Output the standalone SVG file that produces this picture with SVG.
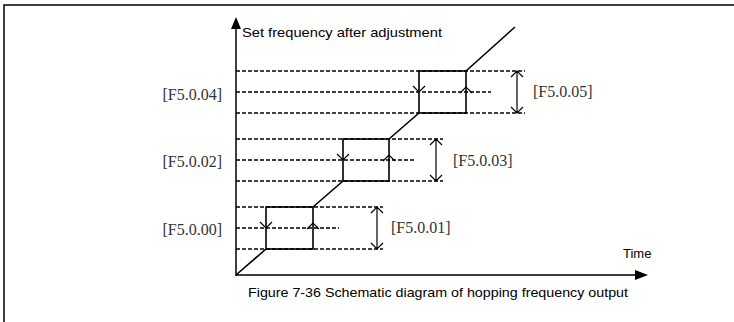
<svg xmlns="http://www.w3.org/2000/svg" width="734" height="322" viewBox="0 0 734 322">
<style>
.ax{stroke:#000;stroke-width:1.5;fill:none}
.box{stroke:#000;stroke-width:1.6;fill:none}
.dash{stroke:#000;stroke-width:1.3;stroke-dasharray:4 2;fill:none}
.ah{stroke:#000;stroke-width:1.2;fill:none}
.lbl{font-family:"Liberation Serif","Times New Roman",serif;font-size:16px;fill:#333}
.sans{font-family:"Liberation Sans",Arial,sans-serif;font-size:13px;fill:#000}
</style>
<rect width="734" height="322" fill="#fff"/>
<path d="M4,322 V5 H734" stroke="#000" stroke-width="1.5" fill="none"/>
<g id="axes">
<line class="ax" x1="236" y1="276" x2="236" y2="28"/>
<polygon points="236,17 231,29 241,29" fill="#000"/>
<line class="ax" x1="236" y1="275" x2="636" y2="275"/>
<polygon points="648,275 635,270 635,280" fill="#000"/>
<text class="sans" x="242" y="37" textLength="200" lengthAdjust="spacingAndGlyphs">Set frequency after adjustment</text>
<text class="sans" x="623" y="258">Time</text>
</g>
<g id="connectors">
<g id="dashed-lines">
<path class="dash" d="M236,71 H525 M236,113 H525 M236,92 H491"/>
<path class="dash" d="M236,139 H443 M236,181 H443 M236,160 H416"/>
<path class="dash" d="M236,207 H383 M236,249 H383 M236,228 H339"/>
</g>
<path class="box" d="M236,275 L266,249 M313,207 L343,181 M389,139 L419,113 M466,71 L515,27"/>
</g>
<g id="hop-1">
<rect class="box" x="266" y="207" width="47" height="42"/>
<path class="ah" d="M260,222 L266,228 L272,222 M307,229 L313,223 L319,229"/>
</g>
<g id="hop-2">
<rect class="box" x="343" y="139" width="46" height="42"/>
<path class="ah" d="M337,154 L343,160 L349,154 M383,161 L389,155 L395,161"/>
</g>
<g id="hop-3">
<rect class="box" x="419" y="71" width="47" height="42"/>
<path class="ah" d="M413,86 L419,92 L425,86 M460,93 L466,87 L472,93"/>
</g>
<g id="range-1">
<path class="ah" d="M377,207 V249 M371,213 L377,207 L383,213 M371,243 L377,249 L383,243"/>
<text class="lbl" x="391" y="233">[F5.0.01]</text>
</g>
<g id="range-2">
<path class="ah" d="M436,139 V181 M430,145 L436,139 L442,145 M430,175 L436,181 L442,175"/>
<text class="lbl" x="453" y="166">[F5.0.03]</text>
</g>
<g id="range-3">
<path class="ah" d="M517,71 V113 M511,77 L517,71 L523,77 M511,107 L517,113 L523,107"/>
<text class="lbl" x="533" y="97">[F5.0.05]</text>
</g>
<g id="left-labels">
<text class="lbl" x="222" y="100" text-anchor="end">[F5.0.04]</text>
<text class="lbl" x="222" y="167" text-anchor="end">[F5.0.02]</text>
<text class="lbl" x="222" y="235" text-anchor="end">[F5.0.00]</text>
</g>
<text id="caption" class="sans" x="248" y="297" textLength="380" lengthAdjust="spacingAndGlyphs">Figure 7-36 Schematic diagram of hopping frequency output</text>
</svg>
